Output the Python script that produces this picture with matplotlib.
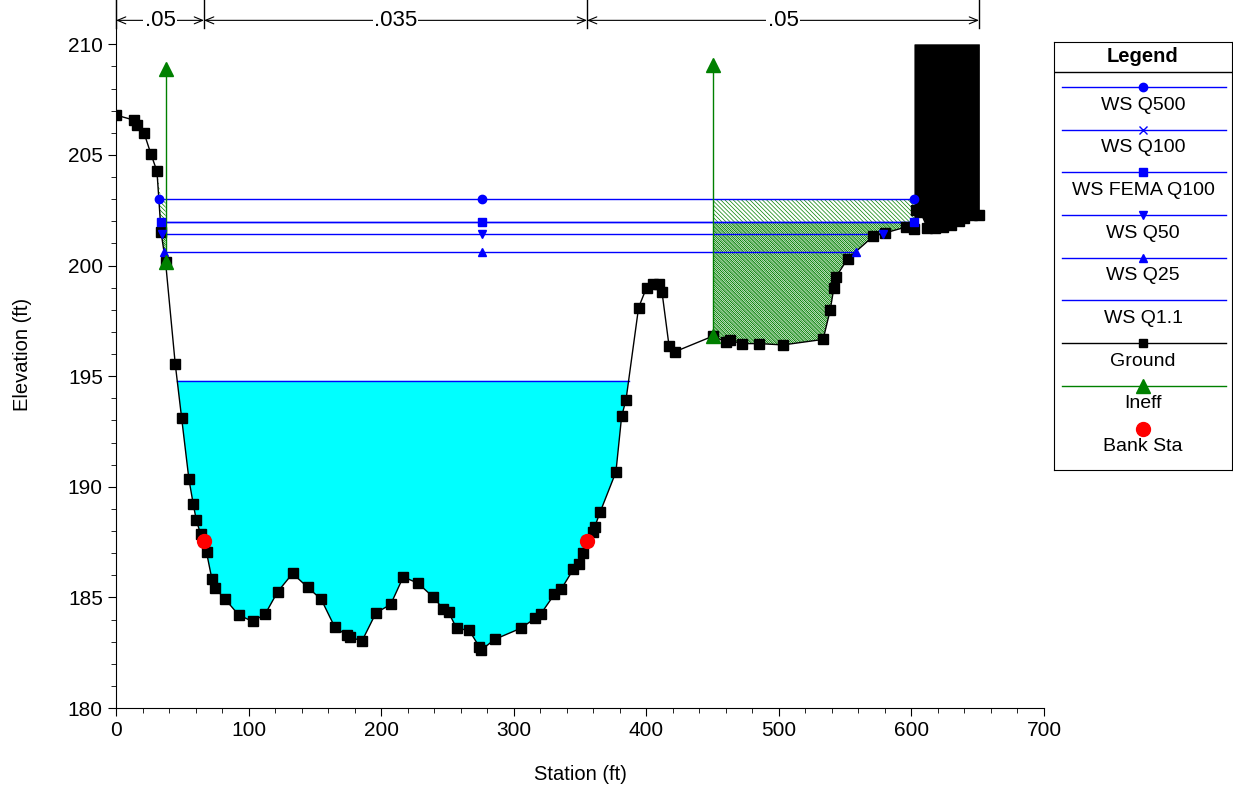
import matplotlib
matplotlib.use("Agg")
import matplotlib.pyplot as plt
import numpy as np

plt.rcParams['font.family'] = ['Liberation Sans', 'DejaVu Sans']
plt.rcParams['hatch.linewidth'] = 0.5

# ground survey
sta = np.array([0, 13.6, 15.8, 21.1, 26.4, 30.9, 34.0, 37.4, 44.7, 49.5, 55.0, 58.3, 60.6, 63.8, 66.4,
                68.3, 72.3, 74.7, 82.4, 92.5, 103.0, 112.5, 121.9, 133.2, 144.5, 154.8, 164.9, 173.9,
                176.5, 185.5, 196.1, 207.2, 216.7, 228.0, 239.3, 246.8, 250.9, 256.9, 266.4, 274.0,
                275.5, 285.6, 305.2, 316.1, 320.3, 330.6, 335.7, 344.9, 349.2, 352.4, 355.3, 359.6,
                361.1, 365.3, 377.1, 381.4, 384.7, 394.2, 400.2, 404.7, 409.8, 411.9, 417.2, 421.9,
                450.3, 459.9, 462.8, 472.1, 485.0, 503.2, 533.4, 538.7, 541.5, 543.1, 551.8, 571.2,
                580.0, 595.9, 602.2, 603.5, 607.0, 612.0, 618.0, 624.0, 630.0, 636.0, 640.0, 646.0, 651.0])
elev = np.array([206.8, 206.57, 206.35, 206.0, 205.03, 204.26, 201.5, 200.15, 195.54, 193.11, 190.34,
                 189.2, 188.49, 187.86, 187.55, 187.03, 185.84, 185.42, 184.91, 184.21, 183.91, 184.24,
                 185.25, 186.08, 185.46, 184.91, 183.67, 183.29, 183.22, 183.02, 184.30, 184.68, 185.93,
                 185.63, 185.01, 184.48, 184.33, 183.60, 183.51, 182.77, 182.62, 183.10, 183.60, 184.05,
                 184.24, 185.13, 185.36, 186.26, 186.50, 187.01, 187.55, 187.96, 188.19, 188.87, 190.67,
                 193.18, 193.93, 198.10, 199.0, 199.16, 199.16, 198.78, 196.35, 196.11, 196.81, 196.55,
                 196.62, 196.47, 196.47, 196.41, 196.66, 197.98, 198.99, 199.48, 200.30, 201.32, 201.47,
                 201.74, 201.63, 202.5, 202.4, 201.7, 201.7, 201.75, 201.85, 202.0, 202.15, 202.3, 202.3])

# water surfaces
ws_names = ['WS Q500', 'WS Q100', 'WS FEMA Q100', 'WS Q50', 'WS Q25', 'WS Q1.1']
ws_elev = [203.0, 201.97, 201.97, 201.41, 200.62, 194.79]
ws_left = [32.8, 34.3, 34.3, 34.5, 36.2, 46.2]
ws_right = [602.2, 602.2, 602.2, 578.8, 557.9, 386.7]
ws_marker = ['o', 'x', 's', 'v', '^', None]
ws_mid = 276.1

bank_sta = [66.4, 355.3]
bank_elev = [187.55, 187.55]

ineff_sta = [37.4, 450.3]
ineff_lo = [200.15, 196.81]
ineff_hi = [208.9, 209.05]

block_left, block_right, block_top = 602.2, 651.0, 210.0

n_sta = [0, 66.4, 355.3, 651.0]
n_vals = ['.05', '.035', '.05']

fig = plt.figure(figsize=(12.33, 7.88), dpi=100)
ax = fig.add_axes([116/1233, 80/788, 928/1233, 708/788])

# Q1.1 water fill
ax.fill_between(sta, elev, ws_elev[5], where=elev < ws_elev[5], interpolate=True,
                facecolor='#00ffff', edgecolor='none', zorder=1)

# ineffective areas hatch
in_ineff = (sta <= ineff_sta[0]) | ((sta >= ineff_sta[1]) & (sta <= block_left))
ax.fill_between(sta, elev, np.maximum(elev, ws_elev[0]), where=in_ineff,
                facecolor='none', edgecolor='#008000', hatch='\\' * 8, linewidth=0, zorder=2)
ax.fill_between(sta, elev, np.maximum(elev, ws_elev[1]), where=in_ineff,
                facecolor='none', edgecolor='#008000', hatch='\\' * 16, linewidth=0, zorder=2)

# blocked obstruction
blk = (sta >= block_left) & (sta <= block_right)
ax.fill_between(sta, elev, block_top, where=blk, facecolor='black', edgecolor='black',
                linewidth=0.5, zorder=3)

# water surface lines
for i in range(len(ws_names)):
    ax.plot([ws_left[i], ws_right[i]], [ws_elev[i], ws_elev[i]], color='blue', lw=1, zorder=4)
    if ws_marker[i] is not None:
        ax.plot([ws_left[i], ws_mid, ws_right[i]], [ws_elev[i]] * 3, ls='none',
                marker=ws_marker[i], color='blue', ms=6, mew=1, zorder=6)

# ground
ax.plot(sta, elev, color='black', lw=1, marker='s', ms=6.5, zorder=5)

# ineffective flow markers
for s, lo, hi in zip(ineff_sta, ineff_lo, ineff_hi):
    ax.plot([s, s], [lo, hi], color='#008000', lw=1, zorder=5)
    ax.plot([s, s], [lo, hi], ls='none', marker='^', color='#008000', ms=10, zorder=7)

# bank stations
ax.plot(bank_sta, bank_elev, ls='none', marker='o', color='red', ms=10, zorder=8)

# n values on top
ny = 211.08
for s in n_sta:
    ax.plot([s, s], [210.75, 212], color='black', lw=1, clip_on=False, zorder=9)
for i in range(len(n_vals)):
    ax.annotate('', xy=(n_sta[i], ny), xytext=(n_sta[i + 1], ny),
                arrowprops=dict(arrowstyle='<->,head_length=0.6,head_width=0.25', lw=0.8,
                                color='black', shrinkA=0, shrinkB=0), annotation_clip=False)
    ax.text((n_sta[i] + n_sta[i + 1]) / 2, ny, n_vals[i], ha='center', va='center', fontsize=16,
            bbox=dict(fc='white', ec='none', pad=1), zorder=10)

ax.set_xlim(0, 700)
ax.set_ylim(180, 212)
ax.spines['top'].set_visible(False)
ax.spines['right'].set_visible(False)
ax.set_xticks(np.arange(0, 701, 100))
ax.set_xticks(np.arange(0, 701, 20), minor=True)
ax.set_yticks(np.arange(180, 211, 5))
ax.set_yticks(np.arange(180, 211, 1), minor=True)
ax.tick_params(which='major', length=6, labelsize=15)
ax.tick_params(which='minor', length=3.5)
ax.set_xlabel('Station (ft)', fontsize=14.5, labelpad=18)
ax.set_ylabel('Elevation (ft)', fontsize=14.5, labelpad=26)

# legend panel
lax = fig.add_axes([1054/1233, (788-470)/788, 178/1233, 428/788])
lax.set_xlim(0, 178)
lax.set_ylim(428, 0)
lax.set_xticks([])
lax.set_yticks([])
lax.text(89, 15, 'Legend', ha='center', va='center', fontsize=14.5, fontweight='bold')
lax.axhline(30, color='black', lw=1)
leg_names = ws_names + ['Ground', 'Ineff', 'Bank Sta']
leg_color = ['blue'] * 6 + ['black', '#008000', 'red']
leg_marker = ws_marker + ['s', '^', 'o']
leg_ms = [6] * 6 + [6, 10, 10]
for i, name in enumerate(leg_names):
    y0 = 45 + i * 42.7
    if name != 'Bank Sta':
        lax.plot([8, 172], [y0, y0], color=leg_color[i], lw=1)
    if leg_marker[i] is not None:
        lax.plot([89], [y0], marker=leg_marker[i], color=leg_color[i], ms=leg_ms[i])
    lax.text(89, y0 + 18, name, ha='center', va='center', fontsize=14)

fig.savefig('out.png', dpi=100)
